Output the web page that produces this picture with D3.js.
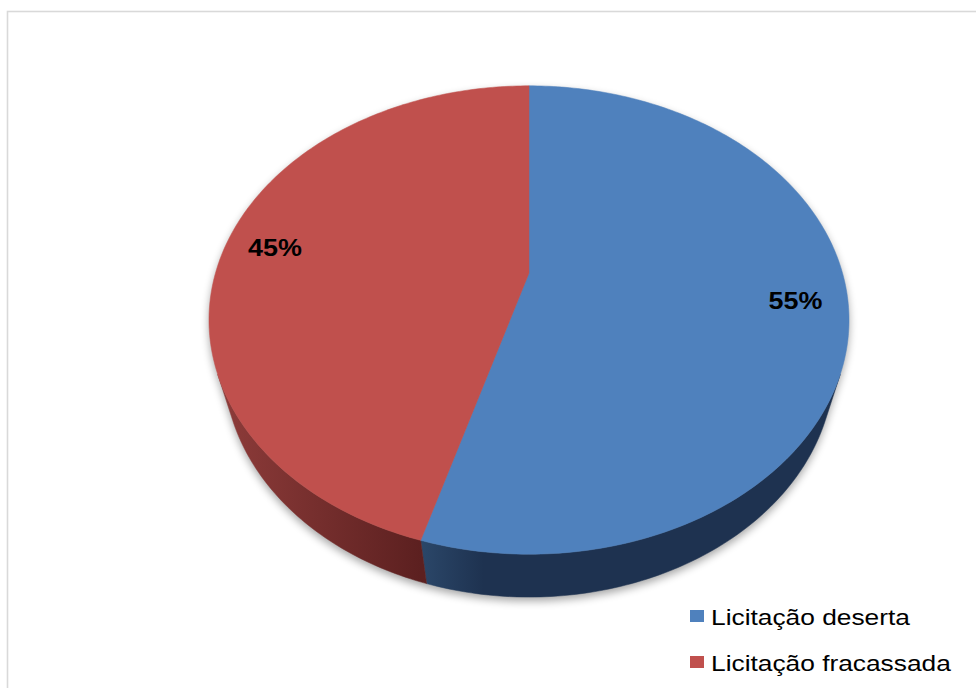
<!DOCTYPE html>
<html><head><meta charset="utf-8">
<script src="https://cdn.jsdelivr.net/npm/d3@7"></script>
<style>html,body{margin:0;padding:0;background:#fff;}svg{display:block;}</style>
</head><body>
<svg id="chart" width="976" height="688"></svg>
<script>
const categories = ["Licitação deserta", "Licitação fracassada"];
const values = [54.5, 45.5];
const labels = ["55%", "45%"];
const topColors = ["#4f81bd", "#c0504d"];
const sideColorsLight = ["#2b4769", "#8e3c3a"];
const sideColorsDark = ["#1e3250", "#5c2020"];

const svg = d3.select("#chart");
const stretch = 1.17;

// perspective camera for the 3D pie (unit-radius disc)
const X0 = 529, Y0 = 273;          // projected centre of the pie
const alpha = 45.8 * Math.PI / 180; // elevation
const dist = 3.473, F = 1088.8, thick = 0.226;
function proj(theta, r, level) {
  const u = r * Math.sin(theta), v = -r * Math.cos(theta); // v>0 toward viewer
  const Y = -thick * level;
  const depth = dist - Y * Math.sin(alpha) - v * Math.cos(alpha);
  return [X0 + F * u / depth, Y0 - F * (Y * Math.cos(alpha) - v * Math.sin(alpha)) / depth];
}
// side visible where v > 1/(dist*cos(alpha))
const vis = Math.acos(1 / (dist * Math.cos(alpha)));
const sideMin = Math.PI - vis, sideMax = Math.PI + vis;

// frame
svg.append("rect").attr("x", 7.5).attr("y", 11.5).attr("width", 1200).attr("height", 1200)
  .attr("fill", "none").attr("stroke", "#d9d9d9").attr("stroke-width", 1.6);

const defs = svg.append("defs");
const f = defs.append("filter").attr("id", "shadow").attr("x", "-20%").attr("y", "-20%").attr("width", "140%").attr("height", "140%");
f.append("feGaussianBlur").attr("stdDeviation", 4.5);

const pie = d3.pie().sort(null).value(d => d).startAngle(0).endAngle(2 * Math.PI);
const arcs = pie(values);
const boundary = proj(arcs[0].endAngle, 1, 0)[0];

categories.forEach((c, i) => {
  const left = proj(sideMin + (sideMax - sideMin), 1, 0)[0];
  const right = proj(sideMin, 1, 0)[0];
  const g = defs.append("linearGradient").attr("id", "side" + i)
    .attr("gradientUnits", "userSpaceOnUse")
    .attr("x1", i === 1 ? left : boundary).attr("x2", i === 1 ? boundary : right)
    .attr("y1", 0).attr("y2", 0);
  g.append("stop").attr("offset", 0).attr("stop-color", sideColorsLight[i]);
  g.append("stop").attr("offset", i === 1 ? 1 : 0.15).attr("stop-color", sideColorsDark[i]);
});

function ring(a0, a1, level, n = 400) {
  const pts = [];
  const steps = Math.max(2, Math.ceil(Math.abs(a1 - a0) / (2 * Math.PI) * n));
  for (let k = 0; k <= steps; k++) pts.push(proj(a0 + (a1 - a0) * k / steps, 1, level));
  return pts;
}
const line = d3.line();

// shadow silhouette
{
  const sil = ring(sideMax, sideMin + 2 * Math.PI, 0).concat(ring(sideMin, sideMax, 1));
  svg.append("path").attr("d", line(sil) + "Z")
    .attr("transform", "translate(0,4)")
    .attr("fill", "#000").attr("opacity", 0.35).attr("filter", "url(#shadow)");
}

// sides
arcs.forEach((a, i) => {
  const s = Math.max(a.startAngle, sideMin);
  const e = Math.min(a.endAngle, sideMax);
  if (e <= s) return;
  const pts = ring(s, e, 0).concat(ring(e, s, 1));
  svg.append("path").attr("d", line(pts) + "Z").attr("fill", "url(#side" + i + ")")
    .attr("stroke", "url(#side" + i + ")").attr("stroke-width", 0.5);
});

// top faces
arcs.forEach((a, i) => {
  const pts = [proj(0, 0, 0)].concat(ring(a.startAngle, a.endAngle, 0));
  svg.append("path").attr("d", line(pts) + "Z").attr("fill", topColors[i])
    .attr("stroke", topColors[i]).attr("stroke-width", 0.5);
});

// data labels
const labelR = 0.838;
arcs.forEach((a, i) => {
  const m = (a.startAngle + a.endAngle) / 2;
  const [x, y] = proj(m, labelR, 0);
  svg.append("text").attr("transform", `translate(${x},${y + 8.5}) scale(${stretch},1)`)
    .attr("text-anchor", "middle").attr("font-family", "Liberation Sans, Arial, sans-serif")
    .attr("font-weight", "bold").attr("font-size", 23).attr("fill", "#000").text(labels[i]);
});

// legend
const lg = svg.append("g");
categories.forEach((c, i) => {
  const y = 625 + i * 46;
  lg.append("rect").attr("x", 690).attr("y", y - 15).attr("width", 14).attr("height", 12).attr("fill", topColors[i]);
  lg.append("text").attr("transform", `translate(711,${y}) scale(${stretch},1)`)
    .attr("font-family", "Liberation Sans, Arial, sans-serif").attr("font-size", 22.5)
    .attr("fill", "#000").text(c);
});
</script>
</body></html>
